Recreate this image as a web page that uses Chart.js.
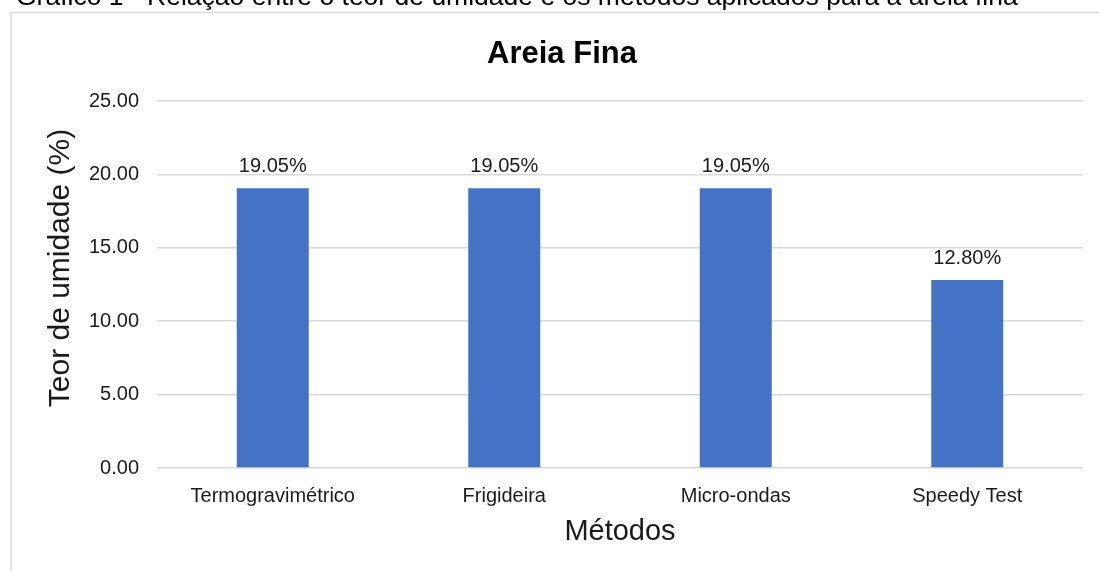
<!DOCTYPE html>
<html lang="pt">
<head>
<meta charset="utf-8">
<title>Areia Fina</title>
<script src="https://cdn.jsdelivr.net/npm/chart.js@4.4.1/dist/chart.umd.min.js"></script>
<style>
  html, body { margin: 0; padding: 0; background: #ffffff; overflow: hidden; }
  #wrap { position: relative; width: 1099px; height: 571px; }
  canvas { display: block; }
</style>
</head>
<body>
<div id="wrap"><canvas id="chart" width="1099" height="571"></canvas></div>
<script>
// Teor de umidade medido para a areia fina, por método
const categories = ['Termogravimétrico', 'Frigideira', 'Micro-ondas', 'Speedy Test'];
const moistureValues = [19.05, 19.05, 19.05, 12.80];
const yTicks = [0, 5, 10, 15, 20, 25];

const chartTitle = 'Areia Fina';
const captionText = 'Gráfico 1 - Relação entre o teor de umidade e os métodos aplicados para a areia fina';
const yAxisTitle = 'Teor de umidade (%)';
const xAxisTitle = 'Métodos';

const FONT = '"Liberation Sans", Arial, sans-serif';
const TEXT_COLOR = '#1a1a1a';
const GRID_COLOR = '#d9d9d9';
const BAR_COLOR = '#4472c4';

// Caption above the frame, chart frame, chart title and vertical axis title
const framePlugin = {
  id: 'frame',
  beforeDraw(chart) {
    const ctx = chart.ctx;
    ctx.save();
    ctx.fillStyle = '#ffffff';
    ctx.fillRect(0, 0, chart.width, chart.height);
    ctx.fillStyle = '#000000';
    ctx.font = '26.5px ' + FONT;
    ctx.textAlign = 'left';
    ctx.textBaseline = 'alphabetic';
    ctx.fillText(captionText, 16, 5);
    ctx.strokeStyle = GRID_COLOR;
    ctx.lineWidth = 1.5;
    ctx.beginPath();
    ctx.moveTo(11, chart.height + 2);
    ctx.lineTo(11, 12.5);
    ctx.lineTo(chart.width + 2, 12.5);
    ctx.stroke();
    ctx.fillStyle = '#000000';
    ctx.font = 'bold 31px ' + FONT;
    ctx.textAlign = 'center';
    ctx.fillText(chartTitle, 562, 63);
    // vertical axis title
    ctx.translate(69, 268);
    ctx.rotate(-Math.PI / 2);
    ctx.fillStyle = TEXT_COLOR;
    ctx.font = '30px ' + FONT;
    ctx.textAlign = 'center';
    ctx.fillText(yAxisTitle, 0, 0);
    ctx.restore();
  }
};

// Value labels above each bar
const valueLabelPlugin = {
  id: 'valueLabels',
  afterDatasetsDraw(chart) {
    const ctx = chart.ctx;
    const meta = chart.getDatasetMeta(0);
    ctx.save();
    ctx.fillStyle = TEXT_COLOR;
    ctx.font = '20px ' + FONT;
    ctx.textAlign = 'center';
    ctx.textBaseline = 'alphabetic';
    meta.data.forEach((bar, i) => {
      const v = chart.data.datasets[0].data[i];
      ctx.fillText(v.toFixed(2) + '%', bar.x, bar.y - 16);
    });
    ctx.restore();
  }
};

new Chart(document.getElementById('chart'), {
  type: 'bar',
  data: {
    labels: categories,
    datasets: [{
      data: moistureValues,
      backgroundColor: BAR_COLOR,
      borderWidth: 0,
      categoryPercentage: 1.0,
      barPercentage: 0.311
    }]
  },
  options: {
    responsive: false,
    animation: false,
    devicePixelRatio: 1,
    layout: { padding: { left: 10, right: 16, top: 101, bottom: 0 } },
    plugins: {
      legend: { display: false },
      tooltip: { enabled: false },
      title: { display: false }
    },
    scales: {
      y: {
        min: 0,
        max: 25,
        afterBuildTicks(scale) { scale.ticks = yTicks.map(v => ({ value: v })); },
        afterFit(scale) { scale.width = 147; },
        ticks: {
          padding: 18,
          color: TEXT_COLOR,
          font: { family: FONT, size: 20 },
          callback: v => Number(v).toFixed(2)
        },
        grid: { color: GRID_COLOR, lineWidth: 1.5, drawTicks: false },
        border: { display: false },
        title: { display: false }
      },
      x: {
        afterFit(scale) { scale.height = 103; },
        ticks: {
          padding: 16,
          color: TEXT_COLOR,
          font: { family: FONT, size: 20 }
        },
        grid: { display: false, drawTicks: false },
        border: { display: false },
        title: {
          display: true,
          text: xAxisTitle,
          color: TEXT_COLOR,
          font: { family: FONT, size: 29 },
          padding: { top: 0, bottom: 22 }
        }
      }
    }
  },
  plugins: [framePlugin, valueLabelPlugin]
});
</script>
</body>
</html>
